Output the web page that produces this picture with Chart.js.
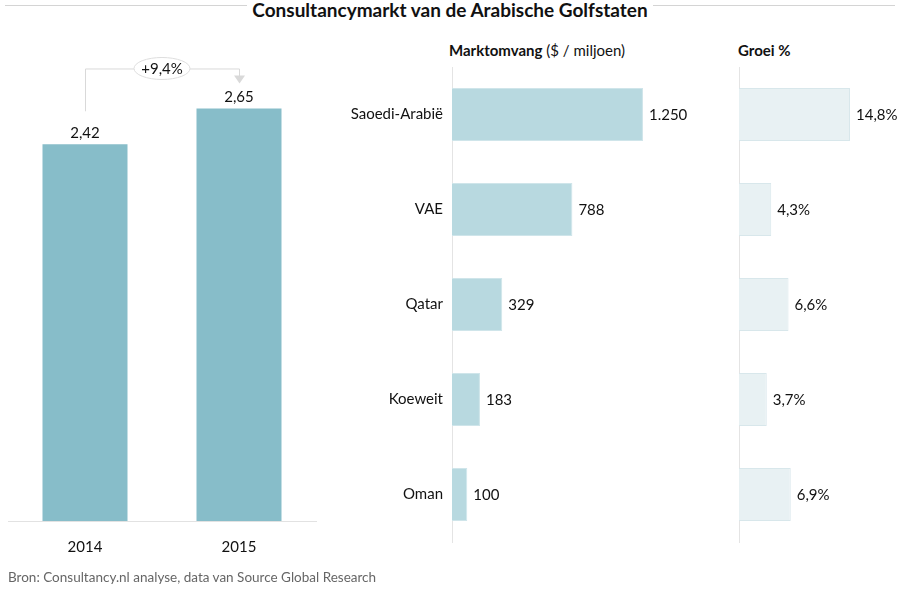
<!DOCTYPE html>
<html>
<head>
<meta charset="utf-8">
<script src="https://cdn.jsdelivr.net/npm/chart.js@4"></script>
<style>
  body { margin: 0; background: #fff; font-family: Lato, "Open Sans", sans-serif; color: #111; }
  #wrap { position: relative; width: 900px; height: 589px; overflow: hidden; }
  #title { position: absolute; left: 5px; right: 5px; top: 0; display: flex; align-items: flex-start; }
  #title .line { flex: 1; height: 1px; background: #d4d4d4; margin-top: 5px; }
  #title .txt { font-weight: bold; font-size: 19px; padding: 0 5px; line-height: 22px; margin-top: -1px; }
  .head { position: absolute; top: 41px; font-size: 15px; }
  #foot { position: absolute; left: 8px; top: 569px; font-size: 13.5px; color: #666; }
  canvas { position: absolute; top: 0; }
</style>
</head>
<body>
<div id="wrap">
  <div id="title"><div class="line"></div><div class="txt">Consultancymarkt van de Arabische Golfstaten</div><div class="line"></div></div>
  <div class="head" style="left:449px"><b>Marktomvang</b> ($ / miljoen)</div>
  <div class="head" style="left:738px"><b>Groei %</b></div>
  <canvas id="total" width="340" height="589" style="left:0"></canvas>
  <canvas id="market" width="405" height="589" style="left:330px"></canvas>
  <canvas id="growth" width="165" height="589" style="left:735px"></canvas>
  <div id="foot">Bron: Consultancy.nl analyse, data van Source Global Research</div>
</div>
<script>
// data
const years = ["2014", "2015"];
const marketTotal = [2.42, 2.65];
const growthTotalLabel = "+9,4%";
const countries = ["Saoedi-Arabië", "VAE", "Qatar", "Koeweit", "Oman"];
const marketSize = [1250, 788, 329, 183, 100];
const growthPct = [14.8, 4.3, 6.6, 3.7, 6.9];

const FONT = "Lato, 'Open Sans', sans-serif";

function fmtDec(v, d) { return v.toFixed(d).replace(".", ","); }
function fmtThousands(v) { return String(v).replace(/\B(?=(\d{3})+(?!\d))/g, "."); }

// draws the value next to / above each bar
function makeLabels(format) {
  return {
    id: "valueLabels",
    afterDatasetsDraw(chart) {
      const ctx = chart.ctx;
      const meta = chart.getDatasetMeta(0);
      const data = chart.data.datasets[0].data;
      ctx.save();
      ctx.font = "15px " + FONT;
      ctx.fillStyle = "#111";
      meta.data.forEach((bar, i) => {
        const text = format(data[i]);
        if (chart.options.indexAxis === "y") {
          ctx.textAlign = "left";
          ctx.textBaseline = "middle";
          ctx.fillText(text, bar.x + 6, bar.y + 1);
        } else {
          ctx.textAlign = "center";
          ctx.textBaseline = "bottom";
          ctx.fillText(text, bar.x, bar.y - 4);
        }
      });
      ctx.restore();
    }
  };
}

// bracket with arrow from 2014 to 2015 and the growth bubble
const growthArrow = {
  id: "growthArrow",
  afterDatasetsDraw(chart) {
    const ctx = chart.ctx;
    const meta = chart.getDatasetMeta(0);
    const a = meta.data[0], b = meta.data[1];
    const yLine = b.y - 40;
    ctx.save();
    ctx.strokeStyle = "#d9d9d9";
    ctx.fillStyle = "#d9d9d9";
    ctx.lineWidth = 1;
    ctx.beginPath();
    ctx.moveTo(a.x + 0.5, a.y - 33);
    ctx.lineTo(a.x + 0.5, yLine + 0.5);
    ctx.lineTo(b.x + 0.5, yLine + 0.5);
    ctx.lineTo(b.x + 0.5, b.y - 32);
    ctx.stroke();
    ctx.beginPath();
    ctx.moveTo(b.x - 5, b.y - 33);
    ctx.lineTo(b.x + 6, b.y - 33);
    ctx.lineTo(b.x + 0.5, b.y - 25);
    ctx.closePath();
    ctx.fill();
    const mx = (a.x + b.x) / 2;
    ctx.beginPath();
    ctx.ellipse(mx, yLine, 28, 11, 0, 0, Math.PI * 2);
    ctx.fillStyle = "#fff";
    ctx.fill();
    ctx.strokeStyle = "#dedede";
    ctx.stroke();
    ctx.font = "15px " + FONT;
    ctx.fillStyle = "#111";
    ctx.textAlign = "center";
    ctx.textBaseline = "middle";
    ctx.fillText(growthTotalLabel, mx, yLine + 1);
    ctx.restore();
  }
};

Chart.defaults.font.family = FONT;
Chart.defaults.color = "#111";

new Chart(document.getElementById("total"), {
  type: "bar",
  data: {
    labels: years,
    datasets: [{ data: marketTotal, backgroundColor: "#87bdc9", categoryPercentage: 0.552, barPercentage: 1 }]
  },
  options: {
    responsive: false,
    animation: false,
    layout: { padding: { left: 8, right: 24, top: 54, bottom: 28 } },
    plugins: { legend: { display: false }, tooltip: { enabled: false } },
    scales: {
      x: {
        grid: { display: true, drawOnChartArea: false, drawTicks: false },
        border: { display: true, color: "#e2e2e2" },
        ticks: { padding: 17, font: { size: 15 } },
        afterFit(scale) { scale.height = 40; }
      },
      y: { display: false, min: 0, max: 3 }
    }
  },
  plugins: [makeLabels(v => fmtDec(v, 2)), growthArrow]
});

new Chart(document.getElementById("market"), {
  type: "bar",
  data: {
    labels: countries,
    datasets: [{
      data: marketSize, backgroundColor: "#b8d9e0", borderColor: "#cfe5ea", borderWidth: 1,
      categoryPercentage: 0.56, barPercentage: 1
    }]
  },
  options: {
    indexAxis: "y",
    responsive: false,
    animation: false,
    layout: { padding: { left: 0, right: 8, top: 67, bottom: 47 } },
    plugins: { legend: { display: false }, tooltip: { enabled: false } },
    scales: {
      x: { display: false, min: 0, max: 1800 },
      y: {
        grid: { display: true, drawOnChartArea: false, drawTicks: false },
        border: { display: true, color: "#e4e4e4" },
        ticks: { padding: 9, font: { size: 15 } },
        afterFit(scale) { scale.width = 122; }
      }
    }
  },
  plugins: [makeLabels(fmtThousands)]
});

new Chart(document.getElementById("growth"), {
  type: "bar",
  data: {
    labels: countries,
    datasets: [{
      data: growthPct, backgroundColor: "#e8f1f3", borderColor: "#d8e7eb", borderWidth: 1,
      categoryPercentage: 0.56, barPercentage: 1
    }]
  },
  options: {
    indexAxis: "y",
    responsive: false,
    animation: false,
    layout: { padding: { left: 0, right: 11, top: 67, bottom: 47 } },
    plugins: { legend: { display: false }, tooltip: { enabled: false } },
    scales: {
      x: { display: false, min: 0, max: 20 },
      y: {
        grid: { display: true, drawOnChartArea: false, drawTicks: false },
        border: { display: true, color: "#e4e4e4" },
        ticks: { display: false },
        afterFit(scale) { scale.width = 4; }
      }
    }
  },
  plugins: [makeLabels(v => fmtDec(v, 1) + "%")]
});
</script>
</body>
</html>
